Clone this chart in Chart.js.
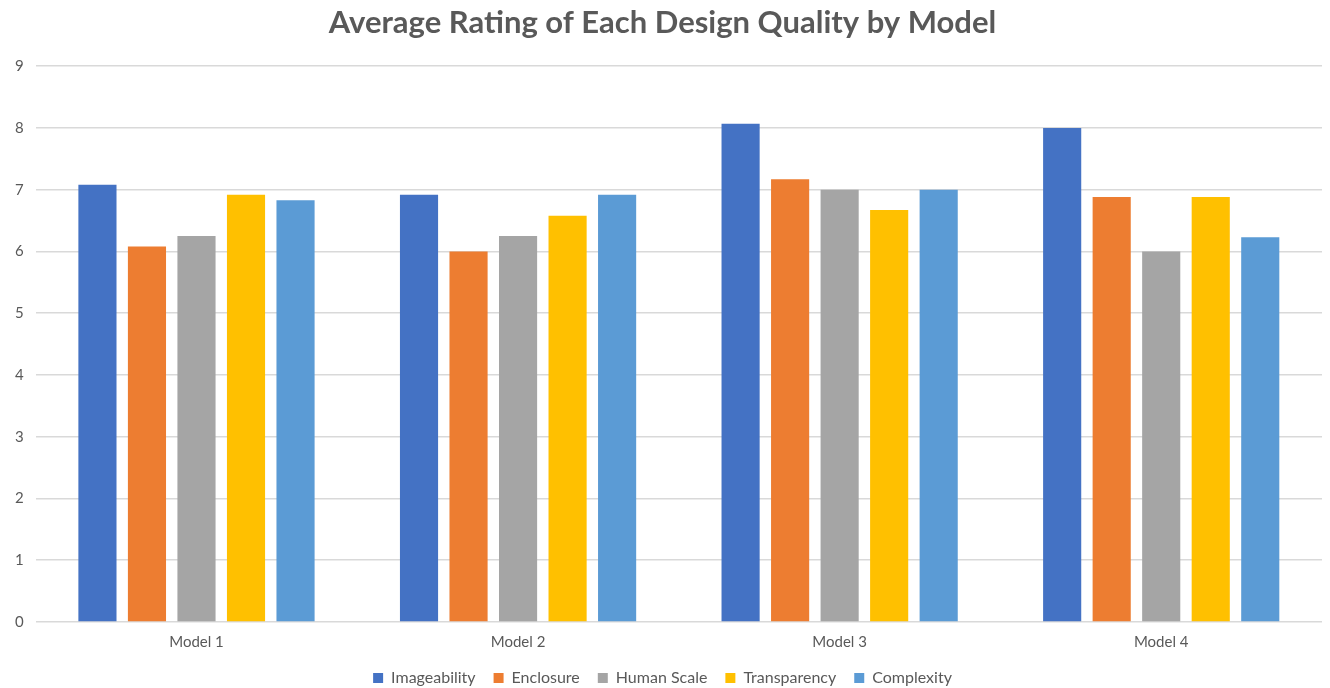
<!DOCTYPE html>
<html>
<head>
<meta charset="utf-8">
<script src="https://cdn.jsdelivr.net/npm/chart.js@4/dist/chart.umd.min.js"></script>
<style>
html,body{margin:0;padding:0;background:#fff;}
#wrap{width:1330px;height:688px;}
</style>
</head>
<body>
<div id="wrap"><canvas id="c" width="1330" height="688"></canvas></div>
<script>
const categories = ["Model 1", "Model 2", "Model 3", "Model 4"];
const imageability = [7.08, 6.92, 8.07, 8.0];
const enclosure = [6.08, 6.0, 7.17, 6.88];
const humanScale = [6.25, 6.25, 7.0, 6.0];
const transparency = [6.92, 6.58, 6.67, 6.88];
const complexity = [6.83, 6.92, 7.0, 6.23];
const seriesNames = ["Imageability", "Enclosure", "Human Scale", "Transparency", "Complexity"];
const seriesColors = ["#4472C4", "#ED7D31", "#A5A5A5", "#FFC000", "#5B9BD5"];
const yTicks = [0, 1, 2, 3, 4, 5, 6, 7, 8, 9];

const seriesData = [imageability, enclosure, humanScale, transparency, complexity];
const FONT = "Lato, 'Open Sans', sans-serif";
const TEXT = "#595959";

new Chart(document.getElementById('c'), {
  type: 'bar',
  data: {
    labels: categories,
    datasets: seriesNames.map((n, i) => ({
      label: n,
      data: seriesData[i],
      backgroundColor: seriesColors[i],
      borderWidth: 0,
      categoryPercentage: 0.77,
      barPercentage: 0.77
    }))
  },
  options: {
    responsive: false,
    animation: false,
    devicePixelRatio: 1,
    layout: { padding: { left: 3, right: 8, top: 2, bottom: -8 } },
    plugins: {
      title: {
        display: true,
        text: "Average Rating of Each Design Quality by Model",
        color: TEXT,
        font: { family: FONT, size: 31, weight: 'bold' },
        padding: { top: 2, bottom: 25 }
      },
      legend: {
        position: 'bottom',
        labels: {
          color: TEXT,
          font: { family: FONT, size: 16 },
          boxWidth: 10,
          boxHeight: 10,
          padding: 18
        }
      },
      tooltip: { enabled: false }
    },
    scales: {
      x: {
        grid: { display: false, drawTicks: false },
        border: { display: false },
        ticks: { color: TEXT, font: { family: FONT, size: 15 }, padding: 11 },
        afterFit: (axis) => { axis.height -= 10; }
      },
      y: {
        min: 0, max: 9,
        afterBuildTicks: (axis) => { axis.ticks = yTicks.map(v => ({ value: v })); },
        grid: { color: '#d9d9d9', lineWidth: 1.5, drawTicks: false },
        border: { display: false },
        ticks: { color: TEXT, font: { family: FONT, size: 15 }, padding: 12 }
      }
    }
  }
});
</script>
</body>
</html>
